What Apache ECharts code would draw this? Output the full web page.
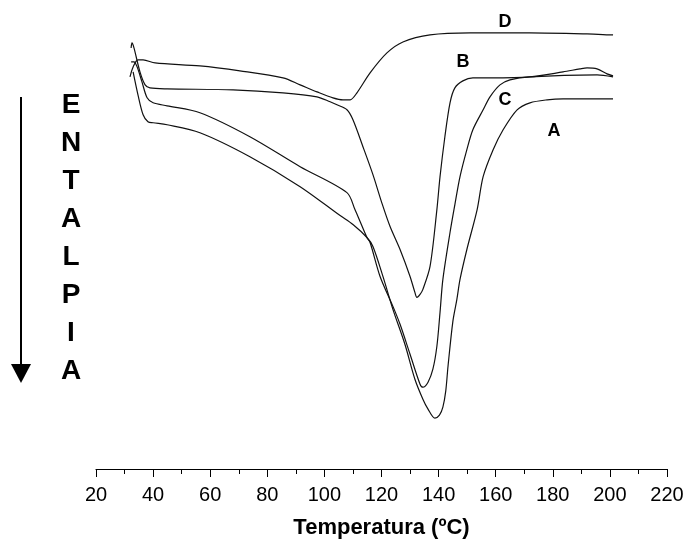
<!DOCTYPE html>
<html>
<head>
<meta charset="utf-8">
<script src="https://cdn.jsdelivr.net/npm/echarts@6/dist/echarts.min.js"></script>
<style>
  html, body { margin: 0; padding: 0; background: #fff; }
  #main { width: 688px; height: 544px; }
</style>
</head>
<body>
<div id="main"></div>
<script>
// temperatura (ºC) y flujo de calor (unidades arbitrarias, hacia abajo = endotérmico)
var tempD = [31.9, 33.0, 34.7, 36.5, 40.7, 56.4, 70.4, 85.5, 91.5, 97.4, 103.0, 106.5, 109.0, 111.4, 116.0, 121.9, 127.5, 137.0, 151.0, 172.0, 192.0, 201.1];
var valD  = [390, 400, 407, 407, 404, 401, 396, 389, 382, 375, 369, 367, 367, 374, 394, 414, 425, 432, 434, 434, 433, 432];

var tempB = [32.3, 32.6, 33.3, 35.4, 37.2, 38.9, 44.9, 68.0, 85.5, 97.4, 102.0, 104.4, 107.9, 110.0, 113.5, 117.0, 120.2, 123.0, 126.5, 130.0, 131.7, 132.4, 133.5, 134.5, 137.0, 139.4, 140.5, 142.2, 144.0, 145.7, 148.5, 152.0, 158.0, 172.0, 183.6, 189.5, 192.0, 195.5, 199.0, 201.1];
var valB  = [419, 424, 419, 395, 382, 379, 378, 377, 374, 370, 365, 362, 357, 347, 320, 292, 263, 240, 217, 190, 174, 169, 172, 177, 200, 257, 290, 330, 364, 379, 386, 389, 389, 390, 395, 398, 399, 398, 393, 391];

var tempC = [32.3, 33.3, 34.4, 36.1, 37.9, 40.0, 44.9, 56.4, 73.9, 91.5, 107.9, 110.7, 112.5, 114.9, 116.0, 119.5, 124.0, 126.5, 130.0, 133.5, 134.5, 136.3, 138.0, 139.4, 140.5, 141.5, 144.0, 145.7, 147.5, 149.9, 152.0, 155.6, 158.0, 161.5, 165.0, 172.0, 195.5, 201.1];
var valC  = [405, 405, 400, 385, 369, 364, 361, 354, 330, 300, 274, 257, 245, 229, 224, 190, 160, 142, 112, 82, 79, 84, 97, 120, 154, 187, 234, 262, 290, 317, 337, 357, 370, 382, 387, 390, 392, 390];

var tempA = [33.0, 34.7, 36.5, 38.2, 40.0, 44.9, 56.4, 73.9, 91.5, 105.5, 110.0, 114.9, 117.0, 120.5, 124.0, 128.2, 131.7, 134.5, 136.3, 138.7, 140.3, 141.5, 142.5, 143.3, 145.0, 146.4, 147.5, 149.9, 153.5, 155.6, 159.1, 162.6, 167.5, 172.0, 178.0, 183.6, 201.1];
var valA  = [395, 372, 352, 345, 344, 342, 334, 310, 280, 251, 242, 229, 220, 190, 157, 122, 87, 67, 57, 48, 51, 59, 75, 100, 145, 167, 187, 217, 257, 290, 317, 337, 357, 364, 367, 368, 368];

var curveNames = ['A', 'B', 'C', 'D'];
var xTicks = [20, 40, 60, 80, 100, 120, 140, 160, 180, 200, 220];
var yLetters = ['E', 'N', 'T', 'A', 'L', 'P', 'I', 'A'];

function pairs(xs, ys) {
    var out = [];
    for (var i = 0; i < xs.length; i++) out.push([xs[i], ys[i]]);
    return out;
}

var curves = {
    A: pairs(tempA, valA),
    B: pairs(tempB, valB),
    C: pairs(tempC, valC),
    D: pairs(tempD, valD)
};

var myChart = echarts.init(document.getElementById('main'));

var series = curveNames.map(function (n) {
    return {
        name: n,
        type: 'line',
        data: curves[n],
        smooth: 0.3,
        showSymbol: false,
        symbol: 'none',
        lineStyle: { color: '#111', width: 1.2 },
        animation: false
    };
});

// letras de las curvas
var curveLabelPos = { D: [505, 22], B: [463, 62], C: [505, 100], A: [554, 131] };
var graphics = curveNames.map(function (n) {
    return {
        type: 'text',
        x: curveLabelPos[n][0],
        y: curveLabelPos[n][1],
        style: {
            text: n,
            font: 'bold 18px "Liberation Sans", Arial, sans-serif',
            fill: '#000',
            align: 'center',
            verticalAlign: 'middle'
        }
    };
});

// ENTALPIA vertical
yLetters.forEach(function (ch, i) {
    graphics.push({
        type: 'text',
        x: 71,
        y: 105 + i * 38,
        style: {
            text: ch,
            font: 'bold 28px "Liberation Sans", Arial, sans-serif',
            fill: '#000',
            align: 'center',
            verticalAlign: 'middle'
        }
    });
});

// flecha
graphics.push({
    type: 'line',
    shape: { x1: 21, y1: 97, x2: 21, y2: 366 },
    style: { stroke: '#000', lineWidth: 2 }
});
graphics.push({
    type: 'polygon',
    shape: { points: [[11, 364], [31, 364], [21, 383]] },
    style: { fill: '#000' }
});

var option = {
    backgroundColor: '#fff',
    animation: false,
    grid: { left: 96, right: 21, top: 20, bottom: 74 },
    xAxis: {
        type: 'value',
        min: 20,
        max: 220,
        interval: 20,
        name: 'Temperatura (ºC)',
        nameLocation: 'middle',
        nameGap: 48,
        nameTextStyle: {
            fontFamily: '"Liberation Sans", Arial, sans-serif',
            fontWeight: 'bold',
            fontSize: 22,
            color: '#000'
        },
        axisLine: { show: true, onZero: false, lineStyle: { color: '#000', width: 1.2 } },
        axisTick: { show: true, inside: false, length: 8, lineStyle: { color: '#000' } },
        minorTick: { show: true, splitNumber: 2, length: 5, lineStyle: { color: '#000' } },
        splitLine: { show: false },
        axisLabel: {
            margin: 16,
            fontFamily: '"Liberation Sans", Arial, sans-serif',
            fontSize: 20,
            color: '#000',
            formatter: function (v) { return xTicks.indexOf(v) >= 0 ? String(v) : ''; }
        }
    },
    yAxis: {
        type: 'value',
        min: -3,
        max: 447,
        show: false,
        splitLine: { show: false }
    },
    series: series,
    graphic: graphics
};

myChart.setOption(option);
</script>
</body>
</html>
